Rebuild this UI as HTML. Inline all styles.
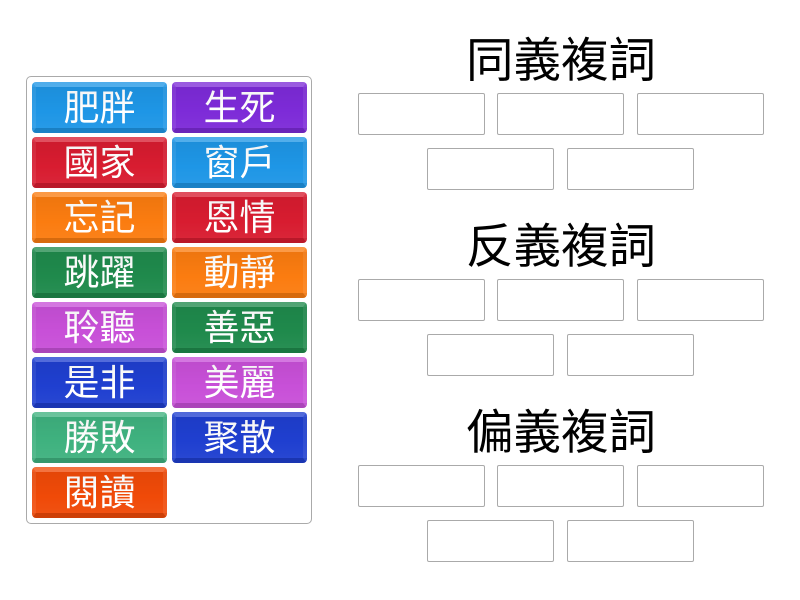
<!DOCTYPE html>
<html>
<head>
<meta charset="utf-8">
<style>
html,body{margin:0;padding:0;background:#fff;}
body{width:800px;height:600px;position:relative;overflow:hidden;font-family:"Liberation Sans","Noto Sans CJK SC",sans-serif;}
.c{position:absolute;left:26px;top:76px;width:284px;height:446px;border:1px solid #aaa;border-radius:5px;}
.t{position:absolute;width:135px;height:51px;border-radius:4px;color:#fff;font-size:36px;line-height:52px;text-align:center;box-sizing:border-box;overflow:hidden;}
.t:before{content:"";position:absolute;left:0;right:0;top:0;bottom:0;border-style:solid;border-width:5px 4px;border-color:rgba(255,255,255,.2) rgba(255,255,255,.08) rgba(0,0,0,.1);background:linear-gradient(rgba(0,0,0,.05),rgba(0,0,0,0) 60%,rgba(255,255,255,.04));}
.b{background:#1e96e6}.p{background:#7d2bd8}.r{background:#d81c30}.o{background:#fb7c10}.g{background:#1f8a4c}
.v{background:#c850d8}.n{background:#1f3fd0}.m{background:#3fb27f}.d{background:#f04a08}
.h{position:absolute;left:358px;width:406px;text-align:center;font-size:47.5px;line-height:62px;color:#000;}
.s{position:absolute;width:127px;height:42px;box-sizing:border-box;border:1px solid #aaa;border-radius:2px;background:#fff;}
</style>
</head>
<body>
<div class="c"></div>
<div class="t b" style="left:32px;top:82px">肥胖</div>
<div class="t p" style="left:172px;top:82px">生死</div>
<div class="t r" style="left:32px;top:137px">國家</div>
<div class="t b" style="left:172px;top:137px">窗戶</div>
<div class="t o" style="left:32px;top:192px">忘記</div>
<div class="t r" style="left:172px;top:192px">恩情</div>
<div class="t g" style="left:32px;top:247px">跳躍</div>
<div class="t o" style="left:172px;top:247px">動靜</div>
<div class="t v" style="left:32px;top:302px">聆聽</div>
<div class="t g" style="left:172px;top:302px">善惡</div>
<div class="t n" style="left:32px;top:357px">是非</div>
<div class="t v" style="left:172px;top:357px">美麗</div>
<div class="t m" style="left:32px;top:412px">勝敗</div>
<div class="t n" style="left:172px;top:412px">聚散</div>
<div class="t d" style="left:32px;top:467px">閱讀</div>

<div class="h" style="top:31px">同義複詞</div>
<div class="s" style="left:358px;top:93px"></div>
<div class="s" style="left:497px;top:93px"></div>
<div class="s" style="left:637px;top:93px"></div>
<div class="s" style="left:427px;top:148px"></div>
<div class="s" style="left:567px;top:148px"></div>

<div class="h" style="top:217px">反義複詞</div>
<div class="s" style="left:358px;top:279px"></div>
<div class="s" style="left:497px;top:279px"></div>
<div class="s" style="left:637px;top:279px"></div>
<div class="s" style="left:427px;top:334px"></div>
<div class="s" style="left:567px;top:334px"></div>

<div class="h" style="top:403px">偏義複詞</div>
<div class="s" style="left:358px;top:465px"></div>
<div class="s" style="left:497px;top:465px"></div>
<div class="s" style="left:637px;top:465px"></div>
<div class="s" style="left:427px;top:520px"></div>
<div class="s" style="left:567px;top:520px"></div>
</body>
</html>
